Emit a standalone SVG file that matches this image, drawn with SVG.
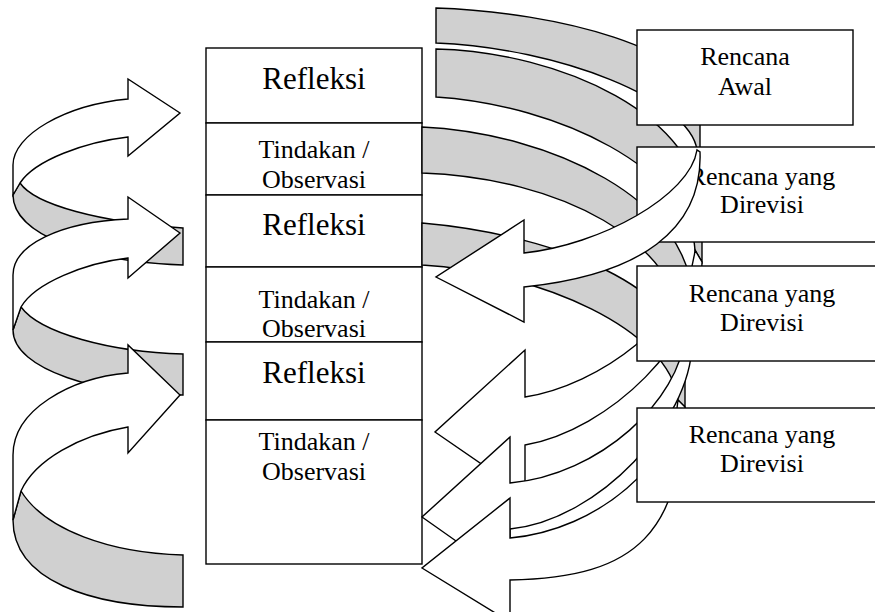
<svg xmlns="http://www.w3.org/2000/svg" width="875" height="612" viewBox="0 0 875 612">
<style>
.box{fill:#fff;stroke:#000;stroke-width:1.4}
.back{fill:#d0d0d0;stroke:#000;stroke-width:1.4;stroke-linejoin:miter}
.front{fill:#fff;stroke:#000;stroke-width:1.4;stroke-linejoin:miter}
.t{font-family:"Liberation Serif","Times New Roman",serif;font-size:26px;text-anchor:middle;fill:#000}
.big{font-size:31px}
</style>
<rect width="875" height="612" fill="#fff"/>
<g id="connectors">
<g id="left-arrow-1">
<path class="back" d="M20,183 C35,205 100,222 183,228 L183,265 C90,262 13,235 13,195 Z"/>
<path class="front" d="M13,195 L13,165 C13,135 65,105 128,99 L128,79 L180,113 L128,156 L128,137 C85,142 35,160 20,183 Z"/>
</g>
<g id="left-arrow-2">
<path class="back" d="M21,307 C40,333 110,352 183,354 L183,395 C100,395 13,370 13,330 Z"/>
<path class="front" d="M13,330 L13,275 C13,245 60,222 128,219 L128,197 L180,233 L128,278 L128,258 C85,263 35,283 21,307 Z"/>
</g>
<g id="left-arrow-3">
<path class="back" d="M21,491 C45,530 110,553 183,555 L183,607 C90,607 13,580 13,520 Z"/>
<path class="front" d="M13,520 L13,455 C13,410 70,378 128,373 L128,345 L180,395 L128,453 L128,427 C80,435 35,460 21,491 Z"/>
</g>
</g>
<g id="column">
<g id="refleksi-1"><rect class="box" x="206" y="48" width="216" height="75"/><text class="t big" x="314" y="89">Refleksi</text></g>
<g id="tindakan-1"><rect class="box" x="206" y="123" width="216" height="72"/><text class="t" x="314" y="158">Tindakan /</text><text class="t" x="314" y="188">Observasi</text></g>
<g id="refleksi-2"><rect class="box" x="206" y="195" width="216" height="72"/><text class="t big" x="314" y="235">Refleksi</text></g>
<g id="tindakan-2"><rect class="box" x="206" y="267" width="216" height="75"/><text class="t" x="314" y="308">Tindakan /</text><text class="t" x="314" y="337">Observasi</text></g>
<g id="refleksi-3"><rect class="box" x="206" y="342" width="216" height="78"/><text class="t big" x="314" y="383">Refleksi</text></g>
<g id="tindakan-3"><rect class="box" x="206" y="420" width="216" height="144"/><text class="t" x="314" y="450">Tindakan /</text><text class="t" x="314" y="480">Observasi</text></g>
</g>
<g id="connectors-right-back">
<path class="back" d="M422,223 C560,235 685,290 685,360 L685,407 L678,400 C670,330 540,272 422,265 Z"/>
<path class="back" d="M422,127 C550,133 692,200 692,300 L692,345 L685,335 C680,240 560,178 422,173 Z"/>
<path class="back" d="M436,49 C560,52 702,115 702,215 L702,262 L695,250 C690,170 560,105 436,97 Z"/>
<path class="back" d="M436,8 C560,12 700,50 700,105 L700,152 L697,150 C690,100 560,48 436,43 Z"/>
</g>
<g id="connectors-right-front">
<path class="front" d="M695,250 C688,320 600,385 525,397 L525,350 L435,432 L525,494 L525,445 C610,430 702,340 702,262 Z"/>
<path class="front" d="M685,335 C680,400 600,475 510,483 L510,437 L422,517 L510,579 L510,529 C600,520 690,420 692,345 Z"/>
<path class="front" d="M678,400 C675,460 600,530 510,538 L510,498 L422,568 L510,622 L510,580 C640,578 680,530 685,407 Z"/>
</g>
<g id="rencana-awal"><rect class="box" x="637" y="30" width="216" height="95"/><text class="t" x="745" y="65">Rencana</text><text class="t" x="745" y="95">Awal</text></g>
<g id="rencana-direvisi-2"><rect class="box" x="637" y="266" width="250" height="95"/><text class="t" x="762" y="302">Rencana yang</text><text class="t" x="762" y="331">Direvisi</text></g>
<g id="rencana-direvisi-3"><rect class="box" x="637" y="408" width="250" height="94"/><text class="t" x="762" y="443">Rencana yang</text><text class="t" x="762" y="472">Direvisi</text></g>
<g id="rencana-direvisi-1"><rect class="box" x="637" y="147" width="250" height="95"/><text class="t" x="762" y="185">Rencana yang</text><text class="t" x="762" y="213">Direvisi</text></g>
<g id="connectors-top">
<path class="front" d="M697,150 C690,196 600,245 524,253 L524,220 L436,277 L524,322 L524,287 C640,275 703,230 700,152 Z"/>
</g>
</svg>
